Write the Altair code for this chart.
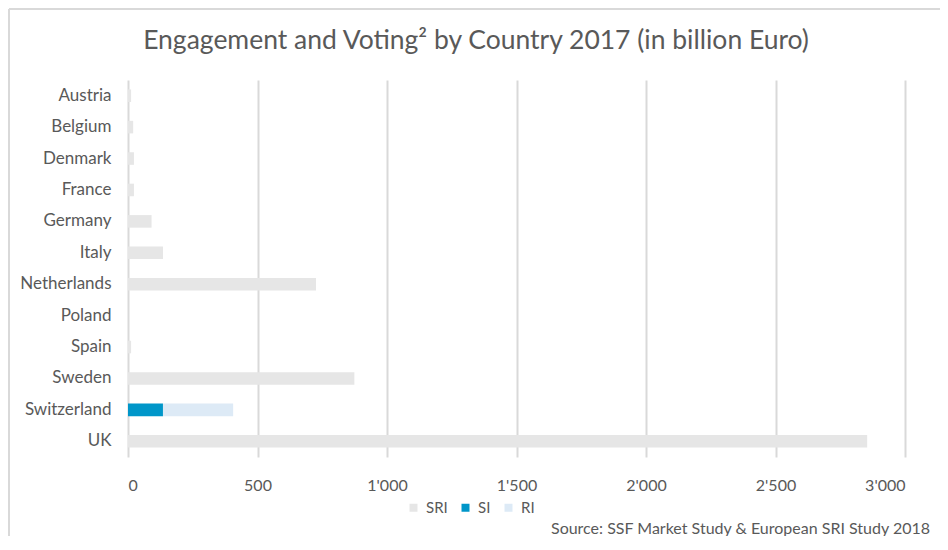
import altair as alt
import pandas as pd

countries = ["Austria", "Belgium", "Denmark", "France", "Germany", "Italy",
             "Netherlands", "Poland", "Spain", "Sweden", "Switzerland", "UK"]
sri = [12, 20, 23, 23, 91, 135, 726, 0, 12, 874, 0, 2854]
si = [0, 0, 0, 0, 0, 0, 0, 0, 0, 0, 135, 0]
ri = [0, 0, 0, 0, 0, 0, 0, 0, 0, 0, 271, 0]
series = ["SRI", "SI", "RI"]
colors = ["#e6e6e6", "#0096c9", "#ddeaf6"]
x_ticks = [0, 500, 1000, 1500, 2000, 2500, 3000]
title_text = "Engagement and Voting\u00b2 by Country 2017 (in billion Euro)"
source_text = "Source: SSF Market Study & European SRI Study 2018"

rows = []
for i, c in enumerate(countries):
    for s, vals in zip(series, [sri, si, ri]):
        rows.append({"country": c, "series": s, "value": vals[i], "order": series.index(s)})
df = pd.DataFrame(rows)

FONT = "Lato"
TXT = "#595959"

bars = alt.Chart(df).mark_bar().encode(
    y=alt.Y("country:N", sort=countries, title=None,
            scale=alt.Scale(paddingInner=0.6, paddingOuter=0.3),
            axis=alt.Axis(domain=False, ticks=False, tickSize=0, labelPadding=17,
                          labelFontSize=17, labelColor=TXT, labelFont=FONT)),
    x=alt.X("value:Q", stack="zero", title=None,
            scale=alt.Scale(domain=[0, 3000], nice=False),
            axis=alt.Axis(values=x_ticks, domain=False, ticks=False, tickSize=0,
                          grid=True, gridColor="#d9d9d9", gridWidth=2,
                          labelPadding=20, labelFontSize=16, labelColor=TXT,
                          labelFont=FONT,
                          labelExpr="replace(format(datum.value, ','), ',', \"'\")")),
    color=alt.Color("series:N", scale=alt.Scale(domain=series, range=colors),
                    legend=alt.Legend(title=None, orient="none", direction="horizontal",
                                      legendX=278, legendY=420, symbolType="square",
                                      symbolSize=64, symbolStrokeWidth=0,
                                      labelFontSize=15, labelColor=TXT, labelFont=FONT,
                                      columnPadding=10, labelOffset=5)),
    order=alt.Order("order:Q"),
)

title = alt.Chart(pd.DataFrame({"t": [title_text]})).mark_text(
    align="center", baseline="alphabetic", fontSize=26.5, color=TXT, font=FONT
).encode(text="t:N", x=alt.value(348), y=alt.value(-31))

src = alt.Chart(pd.DataFrame({"t": [source_text]})).mark_text(
    align="left", baseline="alphabetic", fontSize=16, color=TXT, font=FONT
).encode(text="t:N", x=alt.value(423), y=alt.value(454))

border_top = alt.Chart(pd.DataFrame({"a": [0]})).mark_rule(color="#d9d9d9", strokeWidth=2).encode(
    x=alt.value(-119), x2=alt.value(820), y=alt.value(-71))
border_left = alt.Chart(pd.DataFrame({"a": [0]})).mark_rule(color="#d9d9d9", strokeWidth=2).encode(
    x=alt.value(-119), y=alt.value(-71), y2=alt.value(460))

chart = alt.layer(border_top, border_left, bars, title, src).properties(
    width=777, height=377,
    autosize=alt.AutoSizeParams(type="none"),
    padding={"left": 120, "top": 72, "right": 35, "bottom": 79},
).configure_view(stroke=None)

chart.save("out.html", embed_options={"renderer": "svg", "actions": False})
